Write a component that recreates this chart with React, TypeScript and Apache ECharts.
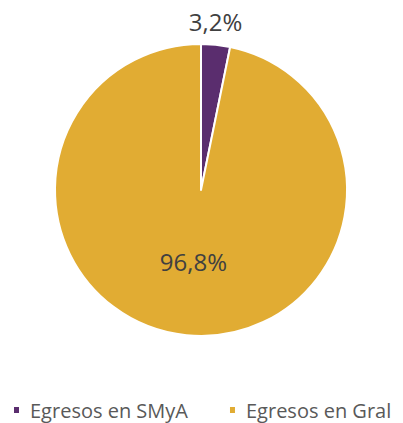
import React, { useEffect, useRef } from "react";
import * as echarts from "echarts";

const categories = ["Egresos en SMyA", "Egresos en Gral"];
const values = [3.2, 96.8];
const labels = ["3,2%", "96,8%"];
const colors = ["#5A2D6E", "#E1AC33"];

export default function App() {
  const ref = useRef<HTMLDivElement>(null);
  useEffect(() => {
    document.body.style.margin = "0";
    const chart = echarts.init(ref.current!, null, { renderer: "svg" });
    chart.setOption({
      animation: false,
      color: colors,
      legend: {
        data: categories,
        bottom: 3,
        left: 12,
        width: 391,
        padding: 0,
        itemWidth: 7,
        itemHeight: 8,
        itemGap: 40,
        icon: "rect",
        textStyle: {
          fontFamily: "Open Sans",
          fontSize: 20,
          color: "#595959",
          padding: [0, 0, 0, 5],
        },
      },
      series: [
        {
          type: "pie",
          center: [201, 190],
          radius: 146,
          startAngle: 90,
          clockwise: true,
          label: {
            show: true,
            position: "inside",
            fontFamily: "Open Sans",
            fontSize: 24,
            color: "#404040",
            formatter: (p: any) => labels[p.dataIndex],
          },
          labelLine: { show: false },
          labelLayout: (p: any) =>
            p.dataIndex === 0
              ? {
                  x: p.rect.x + p.rect.width / 2,
                  y: p.rect.y - 22,
                  align: "center",
                  verticalAlign: "middle",
                }
              : { dy: -4 },
          itemStyle: { borderColor: "#ffffff", borderWidth: 2 },
          emphasis: { disabled: true },
          data: categories.map((c, i) => ({ name: c, value: values[i] })),
        },
      ],
    });
    return () => chart.dispose();
  }, []);
  return (
    <div
      ref={ref}
      style={{ width: 403, height: 423, position: "absolute", left: 0, top: 0 }}
    />
  );
}
